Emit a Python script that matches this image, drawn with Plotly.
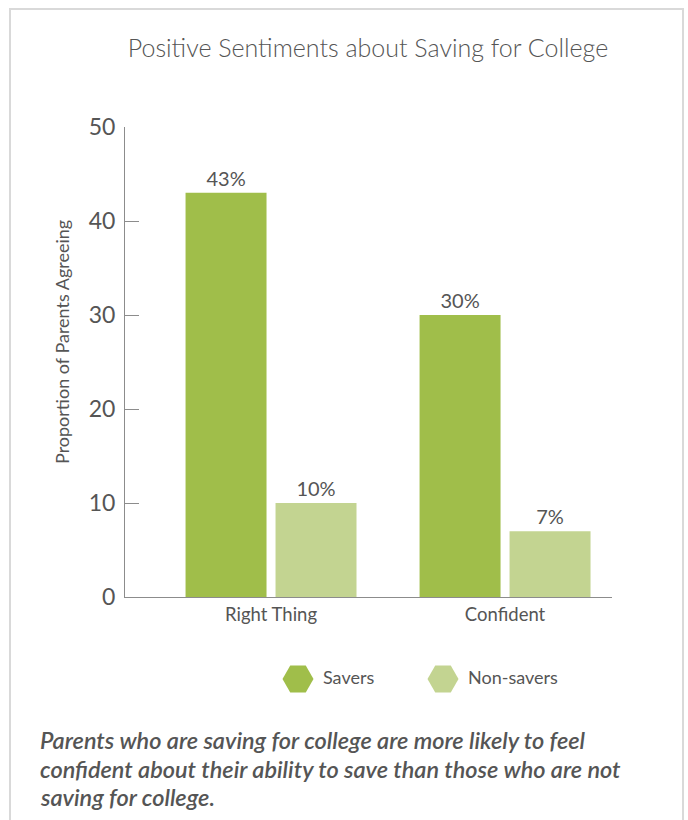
import plotly.graph_objects as go

# Survey results: share of parents agreeing with each statement
categories = ["Right Thing", "Confident"]
series_names = ["Savers", "Non-savers"]
savers = [43, 30]
non_savers = [10, 7]
y_ticks = [0, 10, 20, 30, 40, 50]
caption_lines = [
    "Parents who are saving for college are more likely to feel",
    "confident about their ability to save than those who are not",
    "saving for college.",
]

colors = {"Savers": "#a0be4a", "Non-savers": "#c3d491"}
text_color = "#555555"
axis_color = "#8c8c8c"

W, H = 688, 820

fig = go.Figure()

for name, values in zip(series_names, [savers, non_savers]):
    fig.add_trace(go.Bar(
        x=categories,
        y=values,
        name=name,
        marker=dict(color=colors[name], line=dict(width=0)),
        texttemplate="%{y}%",
        textposition="outside",
        textfont=dict(family="Lato", size=20, color=text_color),
        cliponaxis=False,
        showlegend=False,
        hoverinfo="skip",
    ))

# Custom legend with hexagon swatches, on its own overlay axes
fig.add_trace(go.Scatter(
    x=list(range(len(series_names))),
    y=[0] * len(series_names),
    mode="markers+text",
    marker=dict(symbol="hexagon2", size=31,
                color=[colors[n] for n in series_names], line=dict(width=0)),
    text=[" " + n for n in series_names],
    textposition="middle right",
    textfont=dict(family="Lato", size=18, color=text_color),
    xaxis="x2", yaxis="y2",
    showlegend=False,
    hoverinfo="skip",
    cliponaxis=False,
))

# plot area in pixels
px_l, px_r, px_t, px_b = 125, 612, 127, 597
leg_x0, leg_dx = 298, 145

caption_annotations = [
    dict(
        text=line,
        x=38 / W, y=1 - (740 + 28.5 * i) / H, xref="paper", yref="paper",
        showarrow=False, align="left",
        xanchor="left", yanchor="middle",
        font=dict(family="Lato", size=23.5, color="#555555",
                  style="italic", weight=600),
    )
    for i, line in enumerate(caption_lines)
]

fig.update_layout(
    width=W, height=H,
    margin=dict(l=0, r=0, t=0, b=0, autoexpand=False),
    paper_bgcolor="white",
    plot_bgcolor="white",
    barmode="group",
    bargap=0.231,
    bargroupgap=0.1,
    title=dict(
        text="Positive Sentiments about Saving for College",
        x=368 / W, xanchor="center", xref="paper",
        y=1 - 48 / H, yanchor="middle", yref="paper",
        automargin=False,
        font=dict(family="Lato", size=25, color="#555555", weight=300),
    ),
    xaxis=dict(
        domain=[px_l / W, px_r / W],
        range=[-0.624, 1.457],
        automargin=False,
        showline=True, linecolor=axis_color, linewidth=1,
        ticks="", showgrid=False, zeroline=False,
        tickfont=dict(family="Lato", size=18.5, color=text_color),
        ticklabelstandoff=1,
    ),
    yaxis=dict(
        domain=[1 - px_b / H, 1 - px_t / H],
        range=[0, 50],
        tickvals=y_ticks,
        automargin=False,
        showline=True, linecolor=axis_color, linewidth=1,
        ticks="inside", ticklen=14, tickcolor=axis_color, tickwidth=1,
        showgrid=False, zeroline=False,
        tickfont=dict(family="Lato", size=23, color=text_color),
        ticklabelstandoff=4,
    ),
    xaxis2=dict(
        domain=[0, 1], range=[-leg_x0 / leg_dx, (W - leg_x0) / leg_dx],
        visible=False, fixedrange=True, automargin=False,
    ),
    yaxis2=dict(
        domain=[1 - 699 / H, 1 - 659 / H], range=[-1, 1],
        visible=False, fixedrange=True, automargin=False,
    ),
    annotations=[
        dict(
            text="Proportion of Parents Agreeing",
            x=62 / W, y=1 - 342 / H, xref="paper", yref="paper",
            textangle=-90, showarrow=False,
            xanchor="center", yanchor="middle",
            font=dict(family="Lato", size=18, color=text_color),
        ),
    ] + caption_annotations,
    shapes=[
        dict(type="rect", xref="paper", yref="paper",
             x0=10 / W, x1=683 / W, y0=-0.05, y1=1 - 9 / H,
             line=dict(color="#d9d9d9", width=2), fillcolor="rgba(0,0,0,0)",
             layer="below"),
    ],
)

fig.write_html("out.html")
